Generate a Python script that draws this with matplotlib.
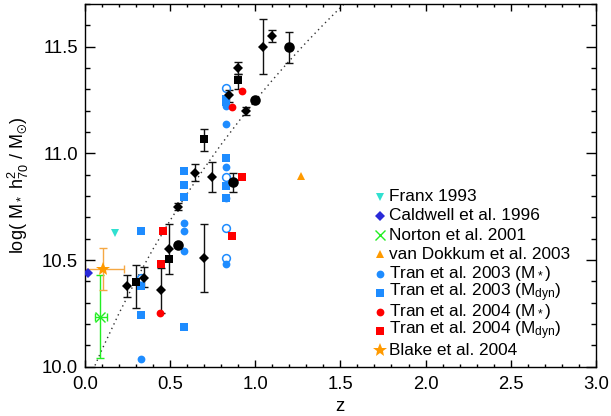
import numpy as np
import matplotlib
matplotlib.use("Agg")
import matplotlib.pyplot as plt
from matplotlib.ticker import MultipleLocator

plt.rcParams['font.family'] = ['Liberation Sans', 'DejaVu Sans']
plt.rcParams['mathtext.default'] = 'regular'

# ---------------- data ----------------
# model curve (dotted)
curve_z = [0.03, 0.05, 0.1, 0.2, 0.3, 0.4, 0.5, 0.6, 0.7, 0.8, 0.9, 1.0, 1.1, 1.2, 1.3, 1.4, 1.5, 1.55]
curve_m = [9.94, 9.987, 10.078, 10.248, 10.405, 10.550, 10.684, 10.810, 10.929, 11.041,
           11.146, 11.247, 11.342, 11.433, 11.520, 11.603, 11.683, 11.721]

# black diamonds with error bars
dia_z = [0.25, 0.35, 0.446, 0.497, 0.55, 0.65, 0.70, 0.749, 0.848, 0.902, 0.947, 1.049, 1.098]
dia_m = [10.38, 10.417, 10.36, 10.55, 10.749, 10.91, 10.508, 10.891, 11.272, 11.40, 11.20, 11.50, 11.55]
dia_lo = [10.328, 10.372, 10.253, 10.433, 10.735, 10.871, 10.349, 10.82, 11.242, 11.37, 11.18, 11.372, 11.521]
dia_hi = [10.43, 10.468, 10.461, 10.669, 10.767, 10.95, 10.669, 10.958, 11.297, 11.43, 11.219, 11.63, 11.578]

# black squares
sq_z = [0.30, 0.497, 0.70, 0.902]
sq_m = [10.398, 10.505, 11.065, 11.343]
sq_lo = [10.276, np.nan, 11.013, 11.30]
sq_hi = [10.478, np.nan, 11.116, 11.37]

# black big circles
bc_z = [0.55, 0.873, 1.0, 1.196]
bc_m = [10.57, 10.867, 11.25, 11.497]
bc_lo = [np.nan, 10.82, np.nan, 11.425]
bc_hi = [np.nan, 10.909, np.nan, 11.571]

# Franx 1993
franx_z = [0.178]
franx_m = [10.628]
# Caldwell et al. 1996
cald_z = [0.018]
cald_m = [10.441]
# Norton et al. 2001
nort_z = [0.09]
nort_m = [10.234]
nort_mlo = [10.04]
nort_mhi = [10.43]
nort_zlo = [0.06]
nort_zhi = [0.129]
# van Dokkum et al. 2003
vd_z = [1.27]
vd_m = [10.896]
# Tran et al. 2003 (M*)
t03s_z = [0.33, 0.58, 0.58, 0.58, 0.83, 0.83, 0.83, 0.83, 0.83]
t03s_m = [10.036, 10.675, 10.638, 10.544, 11.224, 11.137, 10.935, 10.792, 10.481]
# Tran et al. 2003 (M*) open symbols
t03o_z = [0.33, 0.83, 0.83, 0.83, 0.83]
t03o_m = [10.418, 11.306, 10.888, 10.65, 10.508]
# Tran et al. 2003 (Mdyn)
t03d_z = [0.33, 0.33, 0.33, 0.58, 0.58, 0.58, 0.58, 0.83, 0.83, 0.83, 0.83, 0.83]
t03d_m = [10.638, 10.378, 10.242, 10.915, 10.851, 10.797, 10.188, 11.257, 11.24, 10.977, 10.846, 10.79]
# Tran et al. 2004 (M*)
t04s_z = [0.442, 0.863, 0.922]
t04s_m = [10.25, 11.216, 11.29]
# Tran et al. 2004 (Mdyn)
t04d_z = [0.446, 0.462, 0.867, 0.922]
t04d_m = [10.481, 10.638, 10.613, 10.89]
# Blake et al. 2004
blake_z = [0.105]
blake_m = [10.458]
blake_zlo = [0.002]
blake_zhi = [0.231]
blake_mlo = [10.36]
blake_mhi = [10.558]

legend_labels = ["Franx 1993", "Caldwell et al. 1996", "Norton et al. 2001",
                 "van Dokkum et al. 2003", "Tran et al. 2003 (M$_*$)",
                 "Tran et al. 2003 (M$_{dyn}$)", "Tran et al. 2004 (M$_*$)",
                 "Tran et al. 2004 (M$_{dyn}$)", "Blake et al. 2004"]

# ---------------- colours ----------------
BLUE = '#1e8cff'
RED = '#ff0000'
CYAN = '#30e0d0'
DBLUE = '#2a2ad8'
GREEN = '#22ee22'
ORANGE = '#ff9a00'
BLK = '#000000'

W, H = 611, 416
fig = plt.figure(figsize=(W / 100, H / 100), dpi=100)
L, R, T, B = 84.7, 596.0, 4.0, 366.7
ax = fig.add_axes([L / W, 1 - B / H, (R - L) / W, (B - T) / H])
ax.set_xlim(0, 3.0)
ax.set_ylim(10.0, 11.7)

# dotted curve
ax.plot(curve_z, curve_m, color='#333333', lw=1.0, ls=(0, (1, 2.6)), zorder=1)

def yerr(m, lo, hi):
    m = np.array(m); lo = np.array(lo); hi = np.array(hi)
    return [m - lo, hi - m]

# black error bars
for zz, mm, lo, hi in [(dia_z, dia_m, dia_lo, dia_hi), (sq_z, sq_m, sq_lo, sq_hi), (bc_z, bc_m, bc_lo, bc_hi)]:
    ax.errorbar(zz, mm, yerr=yerr(mm, lo, hi), fmt='none', ecolor='#111111',
                elinewidth=1.0, capsize=2.6, capthick=1.0, zorder=2)

# Norton error bars
ax.errorbar(nort_z, nort_m, yerr=yerr(nort_m, nort_mlo, nort_mhi),
            xerr=yerr(nort_z, nort_zlo, nort_zhi), fmt='none', ecolor=GREEN,
            elinewidth=1.0, capsize=2.6, capthick=1.0, zorder=2)
# Blake error bars
ax.errorbar(blake_z, blake_m, yerr=yerr(blake_m, blake_mlo, blake_mhi),
            xerr=yerr(blake_z, blake_zlo, blake_zhi), fmt='none', ecolor='#f5a843',
            elinewidth=1.0, capsize=2.6, capthick=1.0, zorder=2)

# points
ax.plot(t03d_z, t03d_m, 's', color=BLUE, ms=5.6, mew=0, zorder=3)
ax.plot(t03s_z, t03s_m, 'o', color=BLUE, ms=5.6, mew=0, zorder=3)
ax.plot(t03o_z, t03o_m, 'o', mfc='none', mec=BLUE, ms=5.6, mew=1.1, zorder=3)
ax.plot(t04d_z, t04d_m, 's', color=RED, ms=5.6, mew=0, zorder=3)
ax.plot(t04s_z, t04s_m, 'o', color=RED, ms=5.6, mew=0, zorder=3)
ax.plot(dia_z, dia_m, 'D', color=BLK, ms=5.6, mew=0, zorder=4)
ax.plot(sq_z, sq_m, 's', color=BLK, ms=5.6, mew=0, zorder=4)
ax.plot(bc_z, bc_m, 'o', color=BLK, ms=7.6, mew=0, zorder=4)
ax.plot(franx_z, franx_m, 'v', color=CYAN, ms=5.5, mew=0, zorder=4)
ax.plot(cald_z, cald_m, 'D', color=DBLUE, ms=5.0, mew=0, zorder=4)
ax.plot(nort_z, nort_m, 'x', color=GREEN, ms=6.5, mew=1.0, zorder=4)
ax.plot(vd_z, vd_m, '^', color=ORANGE, ms=5.5, mew=0, zorder=4)
ax.plot(blake_z, blake_m, '*', color=ORANGE, ms=10.0, mew=0, zorder=5)

# legend (manual layout)
leg_style = [dict(marker='v', color=CYAN, ms=5.5, mew=0),
             dict(marker='D', color=DBLUE, ms=5.0, mew=0),
             dict(marker='x', color=GREEN, ms=7.5, mew=1.0),
             dict(marker='^', color=ORANGE, ms=5.5, mew=0),
             dict(marker='o', color=BLUE, ms=5.6, mew=0),
             dict(marker='s', color=BLUE, ms=5.6, mew=0),
             dict(marker='o', color=RED, ms=5.6, mew=0),
             dict(marker='s', color=RED, ms=5.6, mew=0),
             dict(marker='*', color=ORANGE, ms=10.0, mew=0)]
mx = (380 - L) / (R - L)
tx = (389 - L) / (R - L)
for i, (lab, st) in enumerate(zip(legend_labels, leg_style)):
    ypx = 196.7 + i * 19.2
    yy = (B - ypx) / (B - T)
    ax.plot([mx], [yy], ls='none', transform=ax.transAxes, clip_on=False, zorder=6, **st)
    ax.text(tx, yy, lab, transform=ax.transAxes, fontsize=12.4, va='center', ha='left', zorder=6)

# axes styling
ax.xaxis.set_major_locator(MultipleLocator(0.5))
ax.xaxis.set_minor_locator(MultipleLocator(0.1))
ax.yaxis.set_major_locator(MultipleLocator(0.5))
ax.yaxis.set_minor_locator(MultipleLocator(0.1))
ax.xaxis.set_major_formatter(matplotlib.ticker.FormatStrFormatter('%.1f'))
ax.yaxis.set_major_formatter(matplotlib.ticker.FormatStrFormatter('%.1f'))
ax.tick_params(axis='both', which='both', direction='in', top=True, right=True,
               width=1.0, color='black', labelsize=13.3)
ax.tick_params(axis='x', which='major', length=5.0, pad=7)
ax.tick_params(axis='x', which='minor', length=2.5)
ax.tick_params(axis='y', which='major', length=7.2, pad=5)
ax.tick_params(axis='y', which='minor', length=3.6)
for sp in ax.spines.values():
    sp.set_linewidth(1.0)

ax.set_xlabel('z', fontsize=13.3, labelpad=3)
ax.set_ylabel('log( M$_*$ h$^2_{70}$ / M$_{\\odot}$)', fontsize=13, labelpad=8)

fig.savefig('out.png', dpi=100)
